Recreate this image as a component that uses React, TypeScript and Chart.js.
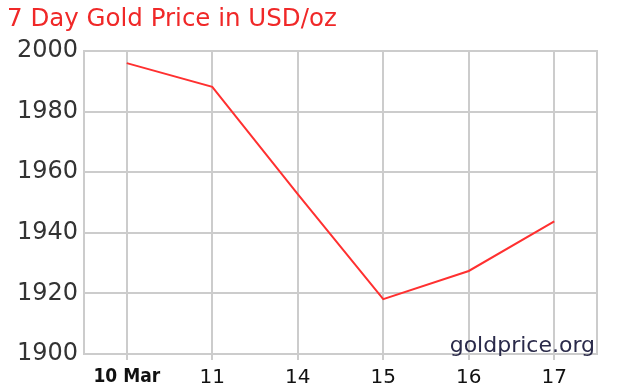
import React, { useEffect, useRef } from "react";
import { Chart, registerables } from "chart.js";

Chart.register(...registerables);

const categories = ["10 Mar", "11", "14", "15", "16", "17"];
const goldPrice = [1996, 1988.2, 1952.8, 1918.1, 1927.4, 1943.8];
const yMin = 1900;
const yMax = 2000;
const yStep = 20;
const titleText = "7 Day Gold Price in USD/oz";
const watermarkText = "goldprice.org";

const frameAndText = {
  id: "frameAndText",
  beforeDatasetsDraw(chart: any) {
    const { ctx, chartArea } = chart;
    ctx.save();
    ctx.strokeStyle = "#cccccc";
    ctx.lineWidth = 2;
    ctx.strokeRect(chartArea.left, chartArea.top, chartArea.right - chartArea.left, chartArea.bottom - chartArea.top);
    ctx.font = "22px 'DejaVu Sans'";
    ctx.fillStyle = "#2a2a4a";
    ctx.textAlign = "right";
    ctx.textBaseline = "alphabetic";
    ctx.fillText(watermarkText, chartArea.right - 2, chartArea.bottom - 2);
    ctx.restore();
  },
  afterDraw(chart: any) {
    const { ctx } = chart;
    ctx.save();
    ctx.font = "24.5px 'DejaVu Sans'";
    ctx.fillStyle = "#f02828";
    ctx.textAlign = "left";
    ctx.textBaseline = "alphabetic";
    ctx.fillText(titleText, 7, 26);
    ctx.restore();
  },
};

export default function App() {
  const ref = useRef<HTMLCanvasElement | null>(null);
  useEffect(() => {
    if (!ref.current) return;
    const chart = new Chart(ref.current, {
      type: "line",
      data: {
        labels: categories,
        datasets: [
          {
            data: goldPrice,
            borderColor: "#ff3030",
            borderWidth: 2,
            pointRadius: 0,
            tension: 0,
            fill: false,
          },
        ],
      },
      options: {
        animation: false,
        responsive: false,
        maintainAspectRatio: false,
        layout: { padding: { top: 51, right: 28, left: 0, bottom: 0 } },
        plugins: { legend: { display: false }, tooltip: { enabled: false }, title: { display: false } },
        scales: {
          x: {
            type: "category",
            offset: true,
            afterFit: (s: any) => { s.height = 37; },
            grid: { color: "#cccccc", lineWidth: 2, offset: false, tickLength: 6, drawTicks: true },
            border: { color: "#cccccc", width: 2 },
            ticks: {
              color: "#111111",
              padding: 6,
              maxRotation: 0,
              autoSkip: false,
              font: (c: any) =>
                c.index === 0
                  ? { family: "'DejaVu Sans Condensed', 'DejaVu Sans'", size: 19, weight: "bold" }
                  : { family: "'DejaVu Sans'", size: 20, weight: "normal" },
            },
          },
          y: {
            min: yMin,
            max: yMax,
            afterFit: (s: any) => { s.width = 84; },
            grid: { color: "#cccccc", lineWidth: 2, drawTicks: false },
            border: { color: "#cccccc", width: 2 },
            ticks: {
              stepSize: yStep,
              color: "#333333",
              padding: 6,
              font: { family: "'DejaVu Sans'", size: 24 },
              callback: (v: any) => String(v),
            },
          },
        },
      },
      plugins: [frameAndText],
    });
    return () => chart.destroy();
  }, []);
  return (
    <div style={{ position: "fixed", left: 0, top: 0, width: 625, height: 391, background: "#fff" }}>
      <canvas ref={ref} width={625} height={391} style={{ width: 625, height: 391 }} />
    </div>
  );
}
